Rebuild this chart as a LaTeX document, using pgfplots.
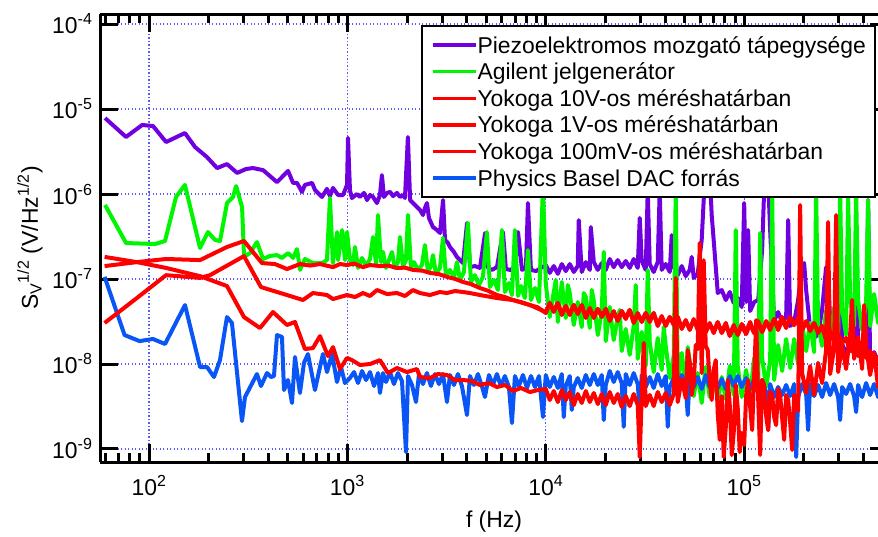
\documentclass[border=0pt]{standalone}
\usepackage{pgfplots}
\pgfplotsset{compat=1.18}
\usepackage{fontspec}
\setmainfont{Liberation Sans}
\definecolor{cpurple}{RGB}{112,0,224}
\definecolor{cgreen}{RGB}{0,245,0}
\definecolor{cred}{RGB}{255,0,0}
\definecolor{cblue}{RGB}{10,85,245}
\definecolor{cgrid}{RGB}{90,90,255}
\begin{document}
\begin{tikzpicture}[font=\fontsize{23}{27}\selectfont]
\useasboundingbox (-100bp,-75bp) rectangle (778bp,462bp);
\begin{axis}[
  scale only axis, width=788bp, height=448bp,
  xmode=log, ymode=log,
  xmin=56.6, xmax=5.31e5, ymin=7.03e-10, ymax=1.312e-4,
  separate axis lines,
  every outer x axis line/.append style={line width=3bp, black},
  every outer y axis line/.append style={line width=3bp, black},
  axis line style={line width=3bp, black},
  tick align=inside,
  major tick length=18bp, minor tick length=9bp,
  major tick style={black, line width=3bp},
  minor tick style={black, line width=3bp},
  xtick={100,1000,10000,100000},
  xticklabels={10\textsuperscript{2},10\textsuperscript{3},10\textsuperscript{4},10\textsuperscript{5}},
  minor xtick={60,70,80,90,200,300,400,500,600,700,800,900,2000,3000,4000,5000,6000,7000,8000,9000,20000,30000,40000,50000,60000,70000,80000,90000,200000,300000,400000,500000},
  ytick={1e-9,1e-8,1e-7,1e-6,1e-5,1e-4},
  yticklabels={10\textsuperscript{-9},10\textsuperscript{-8},10\textsuperscript{-7},10\textsuperscript{-6},10\textsuperscript{-5},10\textsuperscript{-4}},
  yminorticks=false,
  grid=major,
  major grid style={cgrid, line width=1.2bp, dash pattern=on 1.2bp off 2.3bp},
  xticklabel style={yshift=-10bp, font=\fontsize{23}{27}\selectfont},
  yticklabel style={xshift=-4bp, font=\fontsize{23}{27}\selectfont},
  xlabel={f (Hz)},
  ylabel={S\textsubscript{V}\textsuperscript{1/2} (V/Hz\textsuperscript{1/2})},
  every axis x label/.style={at={(axis description cs:0.5,0)}, anchor=north, yshift=-45bp, font=\fontsize{23}{27}\selectfont},
  every axis y label/.style={at={(axis description cs:-0.0888,0.5)}, anchor=center, rotate=90, font=\fontsize{23}{27}\selectfont},
  legend style={at={(axis description cs:0.4074,0.9754)}, anchor=north west, draw=black, line width=2.2bp, fill=white,
    inner xsep=9bp, inner ysep=6bp, font=\fontsize{23}{27}\selectfont, row sep=0.6bp,
    /tikz/every even column/.append style={column sep=9bp},
    nodes={inner sep=0pt, text height=21bp, text depth=5bp}},
  legend cell align=left,
  legend image code/.code={\draw[#1,line width=3.4bp] (0bp,0bp) -- (43bp,0bp);},
  every axis plot post/.append style={line width=4bp, line join=round, mark=none},
]
% Piezo (purple)
\addplot[cpurple, forget plot] coordinates {
(60.0,7.83e-6) (76.6,4.69e-6) (92.3,6.49e-6) (104.7,6.31e-6) (121.9,4.09e-6) (151.7,5.22e-6) (170.6,3.57e-6) (195.9,2.72e-6) (220.3,2.02e-6) (247.2,2.25e-6) (278.0,1.77e-6) (308.3,1.97e-6) (334.2,2.02e-6) (375.8,1.91e-6) (441.6,1.38e-6) (502.3,1.87e-6) (532.1,1.35e-6) (557.2,1.35e-6) (590.2,1.06e-6) (610.9,1.28e-6) (663.7,1.35e-6) (687.1,1.11e-6) (744.7,9.23e-7) (788.9,1.15e-6) (816.6,9.46e-7) (845.3,1.18e-6) (897.4,9.73e-7) (950.6,9.73e-7) (995.4,1.28e-6) (1007,4.56e-6) (1030,1.11e-6) (1054,8.97e-7) (1117,1.00e-6) (1156,9.23e-7) (1213,1.03e-6) (1256,8.49e-7) (1300,9.73e-7) (1346,9.23e-7) (1409,7.83e-7) (1459,9.73e-7) (1493,1.67e-6) (1528,9.23e-7) (1585,1.03e-6) (1641,1.06e-6) (1698,9.46e-7) (1778,1.03e-6) (1841,9.23e-7) (1905,9.73e-7) (1950,8.97e-7) (2018,4.69e-6) (2070,8.49e-7) (2168,7.62e-7) (2244,7.03e-7) (2323,6.49e-7) (2404,5.66e-7) (2460,6.84e-7) (2518,7.83e-7) (2576,5.22e-7) (2698,4.09e-7) (2831,3.77e-7) (2931,3.48e-7) (3034,8.49e-7) (3105,2.88e-7) (3214,2.65e-7) (3289,2.38e-7) (3443,2.08e-7) (3565,1.82e-7) (3698,1.67e-7) (3828,1.54e-7) (4009,4.56e-7) (4150,1.38e-7) (4395,1.42e-7) (4656,1.35e-7) (4943,3.48e-7) (5117,1.35e-7) (5358,1.28e-7) (5675,1.38e-7) (6081,3.57e-7) (6295,1.31e-7) (6607,1.28e-7) (6998,1.35e-7) (7244,3.57e-7) (7586,1.28e-7) (7943,1.35e-7) (8128,7.83e-7) (8414,1.28e-7) (8933,1.24e-7) (9462,1.35e-7)
(1.000e4,1.46e-7) (1.047e4,1.18e-7) (1.097e4,1.42e-7) (1.150e4,1.15e-7) (1.204e4,1.50e-7) (1.261e4,1.24e-7) (1.321e4,1.50e-7) (1.384e4,1.21e-7) (1.449e4,1.42e-7) (1.466e4,4.94e-7) (1.518e4,1.21e-7) (1.591e4,1.58e-7) (1.667e4,1.28e-7) (1.686e4,4.09e-7) (1.746e4,1.58e-7) (1.829e4,1.28e-7) (1.915e4,1.54e-7) (2.006e4,1.28e-7) (2.101e4,1.72e-7) (2.200e4,1.38e-7) (2.305e4,1.67e-7) (2.414e4,1.38e-7) (2.529e4,1.63e-7) (2.649e4,1.35e-7) (2.775e4,1.72e-7) (2.907e4,1.35e-7) (2.976e4,5.22e-7) (3.046e4,1.63e-7) (3.190e4,1.28e-7) (3.265e4,1.11e-6) (3.342e4,1.50e-7) (3.500e4,1.21e-7) (3.667e4,1.58e-7) (3.753e4,1.11e-6) (3.841e4,1.28e-7) (4.024e4,1.50e-7) (4.215e4,1.21e-7) (4.314e4,3.29e-7) (4.415e4,1.38e-7) (4.625e4,1.11e-7) (4.845e4,1.42e-7) (5.075e4,1.08e-7) (5.316e4,1.28e-7) (5.440e4,1.82e-7) (5.568e4,1.03e-7) (5.832e4,1.15e-7) (6.109e4,2.88e-7) (6.252e4,8.49e-7) (6.399e4,2.51e-6) (6.55e4,3.29e-6) (6.70e4,1.91e-6) (6.86e4,5.66e-7) (7.02e4,2.88e-7) (7.36e4,6.84e-8) (7.71e4,7.42e-8) (8.08e4,5.66e-8) (8.46e4,7.03e-8) (8.86e4,5.22e-8) (9.28e4,5.97e-8) (9.72e4,4.68e-8) (1.000e5,7.83e-7) (1.023e5,5.36e-8) (1.047e5,3.77e-7) (1.072e5,4.20e-8) (1.123e5,5.36e-8) (1.177e5,5.66e-8) (1.232e5,2.19e-7) (1.261e5,1.11e-6) (1.291e5,2.51e-6) (1.321e5,1.46e-6) (1.352e5,3.77e-7) (1.416e5,3.20e-8) (1.483e5,4.09e-8) (1.554e5,3.12e-8) (1.628e5,3.57e-8) (1.667e5,4.94e-7) (1.706e5,2.80e-8) (1.787e5,3.12e-8) (1.871e5,5.66e-8) (1.960e5,1.46e-7) (2.006e5,1.54e-7) (2.053e5,7.42e-8) (2.150e5,2.65e-8) (2.252e5,2.02e-8) (2.359e5,2.25e-8) (2.471e5,4.32e-8) (2.588e5,1.38e-7) (2.649e5,1.11e-7) (2.712e5,3.29e-8) (2.841e5,1.91e-8) (2.976e5,1.50e-8) (3.046e5,3.29e-7) (3.117e5,1.72e-8) (3.265e5,1.35e-8) (3.420e5,1.72e-8) (3.583e5,1.31e-8) (3.667e5,3.12e-7) (3.753e5,1.54e-8) (3.932e5,1.18e-8) (4.118e5,1.35e-8) (4.215e5,8.49e-7) (4.314e5,1.06e-8) (4.519e5,1.38e-8) (4.733e5,1.06e-8) (4.958e5,1.24e-8)
};
% Agilent (green)
\addplot[cgreen, forget plot] coordinates {
(60.0,7.43e-7) (76.6,2.65e-7) (107.2,2.58e-7) (120.4,2.80e-7) (136.8,9.23e-7) (151.7,1.28e-6) (180.7,2.32e-7) (198.2,3.57e-7) (215.2,2.88e-7) (228.0,2.80e-7) (247.2,7.83e-7) (264.9,9.23e-7) (274.8,1.24e-6) (294.4,7.03e-7) (301.3,1.82e-7) (322.8,2.02e-7) (349.9,2.72e-7) (375.8,1.72e-7) (407.4,1.87e-7) (441.6,1.91e-7) (467.7,1.77e-7) (502.3,2.02e-7) (532.1,1.77e-7) (557.2,2.25e-7) (576.8,1.28e-7) (610.9,1.72e-7) (671.4,1.54e-7) (744.7,1.54e-7) (788.9,1.67e-7) (816.6,8.97e-7) (845.3,1.54e-7) (887.2,3.57e-7) (897.4,1.67e-7) (939.7,3.77e-7) (972.8,1.67e-7) (995.4,3.57e-7) (1030,1.67e-7)
(1067,1.46e-7) (1092,2.38e-7) (1131,1.35e-7) (1185,1.77e-7) (1241,1.42e-7) (1300,1.72e-7) (1346,3.12e-7) (1394,1.50e-7) (1426,5.66e-7) (1477,1.58e-7) (1511,2.08e-7) (1565,1.35e-7) (1621,1.67e-7) (1678,2.08e-7) (1737,1.35e-7) (1798,1.58e-7) (1841,3.12e-7) (1906,1.42e-7) (1974,1.67e-7) (2020,5.66e-7) (2091,1.35e-7) (2165,1.58e-7) (2268,1.28e-7) (2375,1.46e-7) (2459,2.51e-7) (2547,1.21e-7) (2637,1.42e-7) (2700,1.91e-7) (2795,1.15e-7) (2927,1.35e-7) (3032,3.04e-7) (3139,1.08e-7) (3288,1.28e-7) (3444,1.03e-7) (3566,1.58e-7) (3693,9.73e-8) (3868,1.21e-7) (4051,4.56e-7) (4195,9.22e-8) (4394,1.11e-7) (4602,8.49e-8) (4820,1.06e-7) (5050,3.57e-7) (5230,8.04e-8) (5480,9.73e-8) (5740,7.42e-8) (6010,3.77e-7) (6220,7.03e-8) (6520,8.97e-8) (6750,6.48e-8) (6990,3.77e-7) (7240,6.31e-8) (7500,8.27e-8) (7850,5.97e-8) (8130,2.19e-7) (8420,5.66e-8) (8820,7.83e-8) (9240,5.36e-8) (9680,1.28e-6)
(1.000e4,8.73e-8) (1.047e4,3.57e-8) (1.097e4,7.03e-8) (1.123e4,9.73e-8) (1.150e4,3.12e-8) (1.204e4,9.22e-8) (1.261e4,3.48e-8) (1.291e4,8.49e-8) (1.321e4,6.84e-8) (1.384e4,2.88e-8) (1.449e4,5.36e-8) (1.518e4,2.72e-8) (1.554e4,6.84e-8) (1.591e4,6.14e-8) (1.667e4,2.65e-8) (1.706e4,7.42e-8) (1.746e4,5.51e-8) (1.829e4,2.19e-8) (1.915e4,4.20e-8) (1.960e4,2.08e-7) (2.006e4,1.86e-8) (2.101e4,4.68e-8) (2.200e4,1.91e-8) (2.305e4,3.57e-8) (2.359e4,4.32e-8) (2.414e4,1.42e-8) (2.529e4,2.58e-8) (2.649e4,1.28e-8) (2.775e4,2.80e-8) (2.841e4,8.49e-8) (2.907e4,1.15e-8) (3.046e4,2.38e-8) (3.190e4,9.47e-9) (3.265e4,1.28e-7) (3.342e4,1.82e-8) (3.500e4,8.04e-9) (3.667e4,2.02e-8) (3.841e4,8.49e-9) (3.932e4,2.72e-8) (4.024e4,1.63e-8) (4.215e4,6.84e-9) (4.415e4,1.24e-8) (4.519e4,1.11e-6) (4.625e4,6.14e-9) (4.845e4,1.35e-8) (5.075e4,5.36e-9) (5.194e4,1.58e-8) (5.316e4,1.08e-8) (5.568e4,4.20e-9) (5.832e4,7.83e-9) (6.109e4,3.48e-9) (6.399e4,9.22e-9) (6.70e4,4.09e-9) (7.02e4,8.27e-9) (7.36e4,3.57e-9) (7.71e4,7.03e-9) (8.08e4,3.87e-9) (8.46e4,9.47e-9) (8.86e4,4.32e-9) (9.07e4,3.77e-7) (9.28e4,9.47e-9) (9.72e4,4.09e-9) (1.023e5,8.49e-9) (1.072e5,4.20e-9) (1.123e5,1.18e-8) (1.177e5,5.51e-9) (1.204e5,3.48e-7) (1.232e5,1.18e-8) (1.291e5,5.36e-9) (1.352e5,1.11e-8) (1.384e5,1.11e-6) (1.416e5,6.48e-9) (1.483e5,1.67e-8) (1.554e5,8.27e-9) (1.628e5,1.97e-8) (1.706e5,8.97e-9) (1.787e5,1.97e-8) (1.871e5,1.00e-8) (1.960e5,2.96e-8) (2.053e5,1.42e-8) (2.150e5,3.04e-8) (2.252e5,1.38e-8) (2.305e5,1.11e-6) (2.359e5,2.88e-8) (2.471e5,1.63e-8) (2.588e5,4.20e-8) (2.712e5,1.97e-8) (2.841e5,4.56e-8) (2.976e5,2.02e-8) (3.046e5,1.11e-6) (3.117e5,4.44e-8) (3.265e5,2.19e-8) (3.342e5,9.73e-7) (3.420e5,6.14e-8) (3.583e5,2.80e-8) (3.667e5,1.11e-6) (3.753e5,5.66e-8) (3.932e5,2.51e-8) (4.118e5,5.08e-8) (4.215e5,8.49e-7) (4.314e5,2.80e-8) (4.519e5,6.66e-8) (4.733e5,3.04e-8) (4.958e5,6.84e-8)
};
% Physics Basel DAC (blue)
\addplot[cblue, forget plot] coordinates {
(59.7,1.06e-7) (75.3,2.19e-8) (89.6,1.86e-8) (104.7,1.97e-8) (120.4,1.72e-8) (151.8,4.94e-8) (180.8,9.22e-9) (196.0,9.22e-9) (212.5,7.03e-9) (227.8,1.11e-8) (247.1,3.57e-8) (261.8,3.04e-8) (294.1,2.13e-9) (304.6,4.09e-9) (350.0,7.62e-9) (366.7,5.51e-9) (393.2,7.83e-9) (411.8,7.03e-9) (426.4,7.22e-9) (441.5,2.19e-8) (467.9,2.08e-8) (478.9,4.94e-9) (501.6,6.48e-9) (525.5,3.48e-9) (544.0,1.21e-8) (576.5,4.56e-9) (603.9,1.03e-8) (632.5,1.31e-8) (686.0,4.94e-9) (727.5,9.22e-9) (753.0,1.31e-8) (789.0,8.04e-9) (836.5,1.31e-8) (886.0,6.14e-9) (928.0,9.22e-9) (972.0,5.97e-9)
(1030,6.84e-9) (1080,8.04e-9) (1131,5.97e-9) (1185,8.27e-9) (1241,6.48e-9) (1300,8.04e-9) (1362,5.51e-9) (1426,7.83e-9) (1459,4.56e-9) (1511,7.83e-9) (1565,6.14e-9) (1639,8.04e-9) (1716,5.81e-9) (1798,7.83e-9) (1884,6.31e-9) (1974,9.22e-10) (2020,7.22e-9) (2116,5.66e-9) (2216,3.57e-9) (2295,7.62e-9) (2403,5.81e-9) (2517,7.83e-9) (2637,5.51e-9) (2762,7.62e-9) (2894,5.81e-9) (3032,7.62e-9) (3176,3.57e-9) (3288,7.42e-9) (3444,5.66e-9) (3607,7.62e-9) (3779,5.51e-9) (4006,2.51e-9) (4147,7.22e-9) (4340,5.66e-9) (4550,7.62e-9) (4760,5.51e-9) (4935,4.09e-9) (5170,7.42e-9) (5415,5.66e-9) (5670,7.62e-9) (5940,5.51e-9) (6220,7.22e-9) (6520,5.36e-9) (6750,2.02e-9) (6990,7.22e-9) (7320,5.51e-9) (7670,7.42e-9) (8040,5.22e-9) (8420,7.22e-9) (8820,5.36e-9) (9240,7.22e-9) (9680,2.38e-9)
(1.000e4,7.42e-9) (1.047e4,5.36e-9) (1.097e4,7.03e-9) (1.150e4,5.22e-9) (1.204e4,7.62e-9) (1.232e4,2.38e-9) (1.261e4,5.51e-9) (1.321e4,7.22e-9) (1.352e4,2.88e-9) (1.384e4,5.36e-9) (1.449e4,6.84e-9) (1.518e4,5.22e-9) (1.591e4,7.42e-9) (1.667e4,5.66e-9) (1.746e4,7.62e-9) (1.829e4,5.66e-9) (1.915e4,7.42e-9) (1.960e4,2.19e-9) (2.006e4,5.66e-9) (2.101e4,8.27e-9) (2.200e4,6.14e-9) (2.305e4,8.04e-9) (2.414e4,5.97e-9) (2.471e4,1.82e-9) (2.529e4,7.62e-9) (2.649e4,5.66e-9) (2.775e4,7.83e-9) (2.907e4,5.81e-9) (2.976e4,2.88e-9) (3.046e4,7.42e-9) (3.190e4,5.36e-9) (3.342e4,7.03e-9) (3.500e4,5.22e-9) (3.667e4,7.62e-9) (3.841e4,5.51e-9) (4.024e4,7.22e-9) (4.118e4,1.82e-9) (4.215e4,5.36e-9) (4.415e4,6.84e-9) (4.625e4,5.22e-9) (4.845e4,7.42e-9) (5.075e4,5.66e-9) (5.194e4,2.51e-9) (5.316e4,7.42e-9) (5.568e4,5.36e-9) (5.832e4,7.03e-9) (6.109e4,5.08e-9) (6.399e4,7.42e-9) (6.70e4,5.36e-9) (7.02e4,7.03e-9) (7.36e4,5.22e-9) (7.71e4,6.66e-9) (8.08e4,5.08e-9) (8.46e4,7.22e-9) (8.86e4,5.51e-9) (9.28e4,7.22e-9) (9.72e4,5.36e-9) (1.023e5,6.84e-9) (1.072e5,5.08e-9) (1.123e5,6.66e-9) (1.177e5,5.08e-9) (1.232e5,6.48e-9) (1.291e5,4.56e-9) (1.321e5,1.67e-9) (1.352e5,5.81e-9) (1.416e5,4.09e-9) (1.483e5,5.36e-9) (1.554e5,4.32e-9) (1.628e5,5.66e-9) (1.706e5,4.20e-9) (1.787e5,5.81e-9) (1.829e5,8.04e-10) (1.871e5,4.09e-9) (1.960e5,5.81e-9) (2.053e5,4.44e-9) (2.101e5,1.67e-9) (2.150e5,5.81e-9) (2.252e5,4.20e-9) (2.359e5,5.66e-9) (2.471e5,4.09e-9) (2.588e5,5.97e-9) (2.712e5,4.32e-9) (2.841e5,5.81e-9) (2.976e5,4.09e-9) (3.046e5,2.19e-9) (3.117e5,5.36e-9) (3.265e5,4.44e-9) (3.420e5,5.81e-9) (3.583e5,4.20e-9) (3.667e5,2.72e-9) (3.753e5,5.66e-9) (3.932e5,4.09e-9) (4.118e5,5.97e-9) (4.314e5,4.32e-9) (4.519e5,5.81e-9) (4.733e5,4.09e-9) (4.958e5,5.51e-9)
};
% Yokoga 10V (red)
\addplot[cred, forget plot] coordinates {
(59.7,1.42e-7) (86.8,1.58e-7) (121.8,1.72e-7) (180.8,1.67e-7) (247.1,2.38e-7) (301.1,2.80e-7) (371.0,1.54e-7) (431.4,1.50e-7) (495.8,1.31e-7) (576.5,1.50e-7) (650,1.44e-7) (727.5,1.50e-7) (846,1.38e-7) (917.5,1.50e-7) (995,1.46e-7) (1080,1.52e-7) (1198,1.38e-7) (1300,1.46e-7) (1459,1.42e-7) (1600,1.44e-7) (1779,1.35e-7) (1950,1.36e-7) (2140,1.28e-7) (2400,1.25e-7) (2605,1.18e-7) (2900,1.14e-7) (3176,1.06e-7) (3500,1.00e-7) (3832,9.22e-8) (4200,8.70e-8) (4657,7.83e-8) (5100,7.30e-8) (5672,6.48e-8) (6200,6.15e-8) (6830,5.66e-8) (7500,5.35e-8) (8320,4.94e-8) (9100,4.65e-8)
(1.000e4,3.98e-8) (1.047e4,5.22e-8) (1.097e4,4.09e-8) (1.150e4,5.22e-8) (1.204e4,3.77e-8) (1.261e4,4.81e-8) (1.321e4,3.87e-8) (1.384e4,4.94e-8) (1.449e4,3.98e-8) (1.518e4,4.94e-8) (1.591e4,3.57e-8) (1.667e4,4.56e-8) (1.746e4,3.48e-8) (1.829e4,4.44e-8) (1.915e4,3.57e-8) (2.006e4,4.44e-8) (2.101e4,3.20e-8) (2.200e4,4.09e-8) (2.305e4,3.29e-8) (2.414e4,4.20e-8) (2.529e4,3.48e-8) (2.649e4,4.32e-8) (2.775e4,3.12e-8) (2.907e4,3.98e-8) (3.046e4,3.12e-8) (3.190e4,3.98e-8) (3.342e4,3.12e-8) (3.500e4,3.98e-8) (3.667e4,2.80e-8) (3.841e4,3.57e-8) (4.024e4,2.88e-8) (4.215e4,3.57e-8) (4.415e4,2.96e-8) (4.625e4,3.57e-8) (4.845e4,2.65e-8) (5.075e4,3.29e-8) (5.316e4,2.51e-8) (5.568e4,3.38e-8) (5.832e4,2.51e-8) (6.109e4,3.20e-8) (6.399e4,2.38e-8) (6.70e4,2.96e-8) (7.02e4,2.44e-8) (7.36e4,3.12e-8) (7.71e4,2.31e-8) (8.08e4,2.88e-8) (8.46e4,2.19e-8) (8.86e4,2.88e-8) (9.28e4,2.19e-8) (9.72e4,2.80e-8) (1.023e5,2.25e-8) (1.072e5,2.96e-8) (1.123e5,2.31e-8) (1.177e5,3.20e-8) (1.232e5,2.38e-8) (1.291e5,3.12e-8) (1.352e5,2.51e-8) (1.416e5,3.38e-8) (1.483e5,2.80e-8) (1.554e5,3.57e-8) (1.628e5,2.65e-8) (1.706e5,3.57e-8) (1.787e5,2.88e-8) (1.871e5,3.48e-8) (1.960e5,2.51e-8) (2.053e5,3.12e-8) (2.150e5,2.51e-8) (2.252e5,3.04e-8) (2.359e5,2.38e-8) (2.471e5,2.80e-8) (2.588e5,1.97e-8) (2.712e5,2.44e-8) (2.841e5,1.86e-8) (2.976e5,2.25e-8) (3.117e5,1.77e-8) (3.265e5,2.02e-8) (3.420e5,1.42e-8) (3.583e5,1.72e-8) (3.753e5,1.28e-8) (3.932e5,1.58e-8) (4.118e5,1.21e-8) (4.314e5,1.31e-8) (4.519e5,9.73e-9) (4.733e5,1.21e-8) (4.958e5,8.73e-9)
};
% Yokoga 1V (red)
\addplot[cred, forget plot] coordinates {
(59.7,3.04e-8) (86.8,5.97e-8) (121.8,1.11e-7) (180.8,1.03e-7) (203.0,1.11e-7) (301.1,1.86e-7) (366.7,8.04e-8) (495.8,6.48e-8) (596.9,5.66e-8) (670,6.84e-8) (789.0,6.48e-8) (846,5.81e-8) (995,6.48e-8) (1092,6.14e-8) (1198,6.84e-8) (1300,6.31e-8) (1410,7.42e-8) (1583,6.66e-8) (1779,6.84e-8) (1951,6.31e-8) (2140,7.42e-8) (2321,6.84e-8) (2605,6.48e-8) (2927,7.03e-8) (3176,6.84e-8) (3484,7.22e-8) (3832,7.03e-8) (4147,6.84e-8) (4657,6.48e-8) (5672,5.97e-8) (6830,5.66e-8) (8320,4.94e-8)
(1.000e4,4.09e-8) (1.047e4,5.22e-8) (1.097e4,4.20e-8) (1.150e4,5.22e-8) (1.204e4,3.87e-8) (1.261e4,4.81e-8) (1.321e4,3.77e-8) (1.384e4,4.94e-8) (1.449e4,3.87e-8) (1.518e4,4.94e-8) (1.591e4,3.48e-8) (1.667e4,4.44e-8) (1.746e4,3.57e-8) (1.829e4,4.44e-8) (1.915e4,3.67e-8) (2.006e4,4.44e-8) (2.101e4,3.29e-8) (2.200e4,4.20e-8) (2.305e4,3.20e-8) (2.414e4,4.20e-8) (2.529e4,3.38e-8) (2.649e4,4.32e-8) (2.775e4,3.04e-8) (2.907e4,3.87e-8) (3.046e4,3.20e-8) (3.190e4,3.98e-8) (3.342e4,3.29e-8) (3.500e4,3.98e-8) (3.667e4,2.88e-8) (3.841e4,3.67e-8) (4.024e4,2.80e-8) (4.215e4,3.57e-8) (4.415e4,2.88e-8) (4.625e4,3.57e-8) (4.845e4,2.58e-8) (5.075e4,3.20e-8) (5.316e4,2.58e-8) (5.568e4,3.29e-8) (5.832e4,2.65e-8) (6.109e4,3.29e-8) (6.399e4,2.38e-8) (6.70e4,3.04e-8) (7.02e4,2.31e-8) (7.36e4,3.04e-8) (7.71e4,2.38e-8) (8.08e4,3.04e-8) (8.46e4,2.13e-8) (8.86e4,2.72e-8) (9.28e4,2.25e-8) (9.72e4,2.96e-8) (1.023e5,2.44e-8) (1.072e5,3.12e-8) (1.123e5,2.31e-8) (1.177e5,3.04e-8) (1.232e5,2.38e-8) (1.291e5,3.20e-8) (1.352e5,2.65e-8) (1.416e5,3.38e-8) (1.483e5,2.51e-8) (1.554e5,3.29e-8) (1.628e5,2.72e-8) (1.706e5,3.57e-8) (1.787e5,2.88e-8) (1.871e5,3.48e-8) (1.960e5,2.58e-8) (2.053e5,3.20e-8) (2.150e5,2.44e-8) (2.252e5,3.04e-8) (2.359e5,2.31e-8) (2.471e5,2.80e-8) (2.588e5,1.91e-8) (2.712e5,2.38e-8) (2.841e5,1.86e-8) (2.976e5,2.25e-8) (3.117e5,1.77e-8) (3.265e5,2.02e-8) (3.420e5,1.42e-8) (3.583e5,1.72e-8) (3.753e5,1.24e-8) (3.932e5,1.54e-8) (4.118e5,1.18e-8) (4.314e5,1.42e-8) (4.519e5,9.47e-9) (4.733e5,1.15e-8) (4.958e5,8.97e-9)
};
% Yokoga 100mV (red)
\addplot[cred, forget plot] coordinates {
(59.7,1.82e-7) (86.8,1.58e-7) (121.8,1.35e-7) (180.8,1.08e-7) (247.1,8.27e-8) (301.1,3.57e-8) (362.5,2.65e-8) (421.5,4.09e-8) (495.8,2.88e-8) (544.0,3.12e-8) (610.9,1.50e-8) (670,1.54e-8) (727.5,2.13e-8) (798,1.24e-8) (846,1.58e-8) (917.5,8.73e-9) (995,1.18e-8) (1055,1.11e-8) (1157,9.73e-9) (1300,1.00e-8) (1459,1.11e-8) (1602,7.83e-9) (1779,8.97e-9) (1996,8.04e-9) (2242,8.73e-9) (2321,7.03e-9) (2605,6.84e-9) (2862,7.62e-9) (3176,7.42e-9) (3484,6.48e-9) (3832,6.48e-9) (4240,6.31e-9) (4657,5.66e-9) (5170,5.97e-9) (5672,5.36e-9) (6240,5.66e-9) (6830,4.81e-9) (7500,5.22e-9) (8320,4.68e-9) (9130,4.94e-9)
(1.000e4,5.08e-9) (1.047e4,3.77e-9) (1.097e4,4.81e-9) (1.150e4,3.57e-9) (1.204e4,4.94e-9) (1.261e4,3.77e-9) (1.321e4,4.68e-9) (1.384e4,3.29e-9) (1.449e4,4.44e-9) (1.518e4,3.48e-9) (1.591e4,4.81e-9) (1.667e4,3.57e-9) (1.746e4,4.56e-9) (1.829e4,3.38e-9) (1.915e4,4.44e-9) (2.006e4,3.29e-9) (2.101e4,4.68e-9) (2.200e4,3.48e-9) (2.305e4,4.44e-9) (2.414e4,3.12e-9) (2.529e4,4.20e-9) (2.649e4,3.20e-9) (2.775e4,4.44e-9) (2.907e4,3.29e-9) (2.976e4,8.04e-10) (3.046e4,4.32e-9) (3.117e4,1.77e-8) (3.190e4,3.20e-9) (3.342e4,4.32e-9) (3.500e4,3.20e-9) (3.667e4,4.68e-9) (3.841e4,3.57e-9) (4.024e4,4.56e-9) (4.215e4,3.29e-9) (4.415e4,4.44e-9) (4.519e4,1.03e-7) (4.625e4,3.57e-9) (4.845e4,6.66e-9) (5.075e4,3.98e-9) (5.194e4,1.46e-8) (5.316e4,1.03e-8) (5.440e4,4.32e-9) (5.568e4,6.14e-9) (5.699e4,1.67e-8) (5.832e4,1.50e-8) (5.969e4,2.65e-7) (6.109e4,7.83e-9) (6.252e4,1.67e-7) (6.399e4,1.63e-8) (6.55e4,1.46e-8) (6.70e4,6.48e-9) (6.86e4,3.77e-9) (7.02e4,8.49e-9) (7.19e4,1.11e-8) (7.36e4,2.58e-9) (7.53e4,1.28e-9) (7.71e4,4.20e-9) (7.89e4,8.04e-10) (8.08e4,1.82e-9) (8.27e4,6.48e-9) (8.46e4,3.29e-9) (8.66e4,8.49e-10) (8.86e4,1.58e-9) (9.07e4,5.66e-9) (9.28e4,3.04e-9) (9.50e4,9.22e-10) (9.72e4,1.54e-9) (1.000e5,1.11e-9) (1.023e5,4.20e-9) (1.047e5,6.48e-9) (1.072e5,3.12e-9) (1.097e5,1.67e-9) (1.123e5,7.42e-9) (1.150e5,3.29e-8) (1.177e5,3.77e-9) (1.204e5,8.49e-10) (1.232e5,6.48e-9) (1.261e5,5.66e-9) (1.291e5,2.44e-9) (1.321e5,1.67e-9) (1.352e5,4.68e-9) (1.384e5,4.32e-9) (1.416e5,2.38e-9) (1.449e5,1.91e-9) (1.483e5,5.08e-9) (1.518e5,4.32e-9) (1.554e5,2.31e-9) (1.591e5,1.28e-9) (1.628e5,4.32e-9) (1.667e5,3.77e-9) (1.706e5,2.02e-9) (1.746e5,9.73e-10) (1.787e5,4.32e-9) (1.829e5,3.29e-9) (1.871e5,2.80e-9) (1.915e5,7.42e-7) (1.960e5,7.83e-9) (2.053e5,4.56e-9) (2.150e5,9.47e-9) (2.252e5,4.32e-9) (2.359e5,1.03e-8) (2.471e5,5.97e-9) (2.588e5,1.46e-8) (2.649e5,4.68e-7) (2.712e5,7.62e-9) (2.841e5,1.54e-8) (2.907e5,5.66e-7) (2.976e5,8.04e-9) (3.117e5,1.67e-8) (3.265e5,8.73e-9) (3.420e5,2.19e-8) (3.500e5,5.66e-8) (3.583e5,1.15e-8) (3.753e5,2.08e-8) (3.932e5,8.73e-9) (4.024e5,4.94e-8) (4.118e5,1.63e-8) (4.314e5,7.42e-9) (4.519e5,1.35e-8) (4.733e5,5.36e-9) (4.958e5,8.97e-9)
};
\addlegendimage{cpurple}
\addlegendentry{Piezoelektromos mozgató tápegysége}
\addlegendimage{cgreen}
\addlegendentry{Agilent jelgenerátor}
\addlegendimage{cred}
\addlegendentry{Yokoga 10V-os méréshatárban}
\addlegendimage{cred}
\addlegendentry{Yokoga 1V-os méréshatárban}
\addlegendimage{cred}
\addlegendentry{Yokoga 100mV-os méréshatárban}
\addlegendimage{cblue}
\addlegendentry{Physics Basel DAC forrás}
\end{axis}
\end{tikzpicture}
\end{document}
